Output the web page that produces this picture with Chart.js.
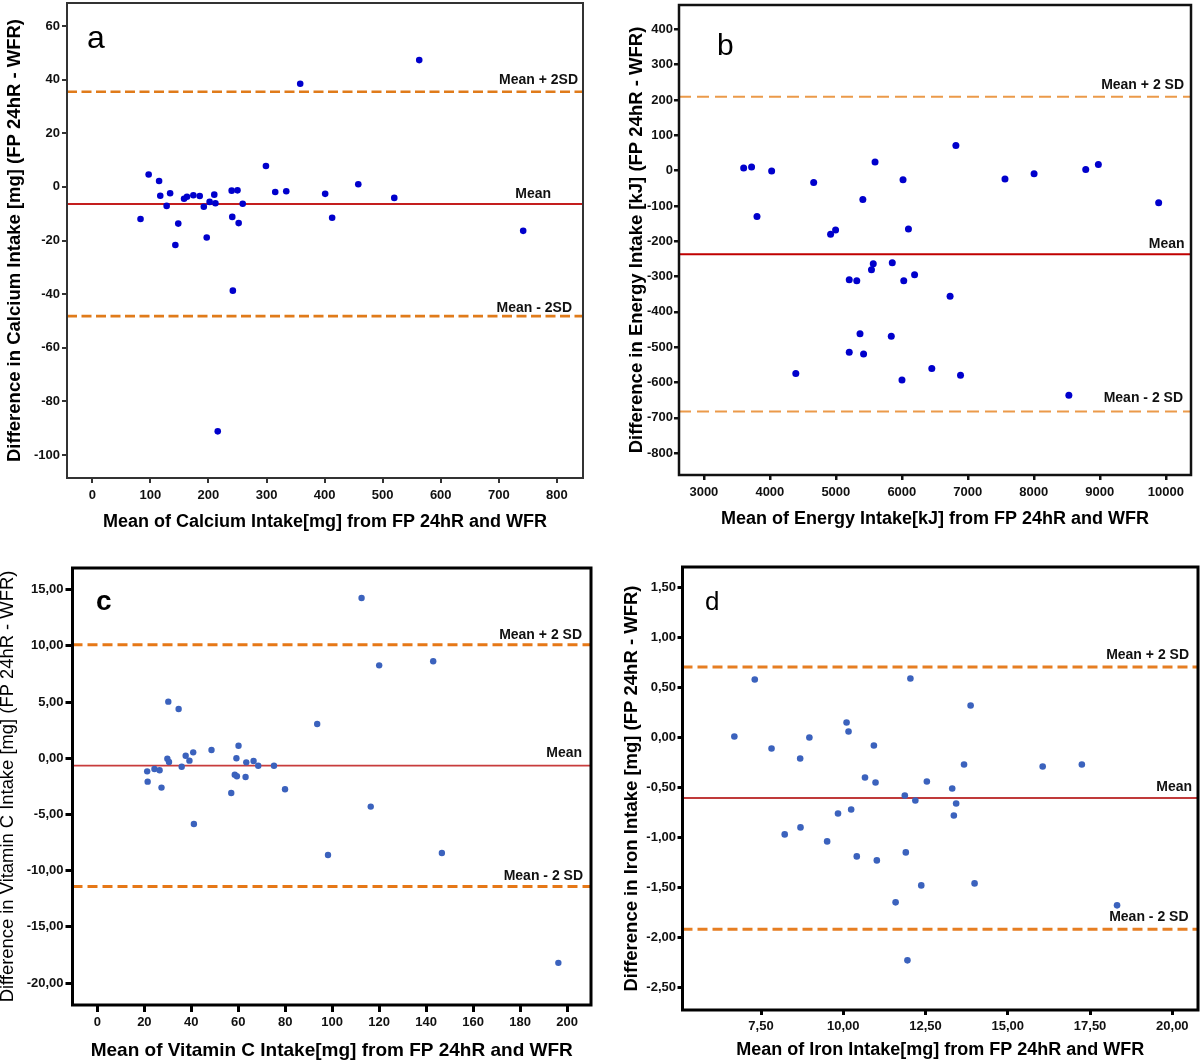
<!DOCTYPE html>
<html>
<head>
<meta charset="utf-8">
<script src="https://cdn.jsdelivr.net/npm/chart.js@4.4.1/dist/chart.umd.min.js"></script>
<style>
html, body { margin: 0; padding: 0; background: #fff; }
body { width: 1200px; height: 1062px; position: relative; overflow: hidden; }
canvas { position: absolute; }
</style>
</head>
<body>
<canvas id="panelA" width="600" height="545" style="left:0;top:0;width:600px;height:545px"></canvas>
<canvas id="panelB" width="600" height="545" style="left:600px;top:0;width:600px;height:545px"></canvas>
<canvas id="panelC" width="600" height="517" style="left:0;top:545px;width:600px;height:517px"></canvas>
<canvas id="panelD" width="600" height="517" style="left:600px;top:545px;width:600px;height:517px"></canvas>
<script>
// a - calcio
const calciumMeans = [563, 358, 97, 115, 299, 117, 134, 128, 158, 163, 174, 185, 192, 202, 210, 212, 240, 250, 259, 315, 334, 401, 458, 520, 83, 148, 241, 252, 413, 742, 197, 143, 242, 216];
const calciumDiffs = [47.3, 38.5, 4.6, 2.2, 7.8, -3.3, -2.4, -7.1, -4.4, -3.7, -3.1, -3.4, -7.4, -5.6, -2.9, -6.1, -1.4, -1.3, -6.3, -1.9, -1.6, -2.6, 1.0, -4.1, -12.0, -13.7, -11.2, -13.5, -11.5, -16.4, -18.9, -21.7, -38.7, -91.2];
const calciumLimits = [35.5, -6.4, -48.2]; // media + 2SD, media, media - 2SD
const calciumXTicks = [0, 100, 200, 300, 400, 500, 600, 700, 800];
const calciumYTicks = [-100, -80, -60, -40, -20, 0, 20, 40, 60];

// b - energia
const energyMeans = [3603, 3723, 4027, 3805, 4664, 4920, 4996, 5409, 5594, 6018, 6100, 6819, 7563, 8004, 8787, 8978, 9892, 5567, 5855, 5540, 5203, 5317, 6029, 6193, 6731, 5366, 5840, 5203, 5420, 4393, 6454, 6889, 6002, 8531];
const energyDiffs = [7, 10, -1, -130, -34, -180, -168, -82, 24, -26, -165, 71, -24, -9, 3, 17, -91, -264, -261, -281, -309, -312, -312, -295, -356, -462, -469, -514, -519, -574, -560, -579, -593, -636];
const energyLimits = [209, -237, -682];
const energyXTicks = [3000, 4000, 5000, 6000, 7000, 8000, 9000, 10000];
const energyYTicks = [-800, -700, -600, -500, -400, -300, -200, -100, 0, 100, 200, 300, 400];

// c - vitamina C
const vitaminMeans = [112.5, 120, 143, 30.2, 34.6, 93.6, 60.1, 48.6, 40.8, 37.6, 29.8, 30.5, 39.2, 35.9, 59.2, 63.4, 66.5, 68.5, 75.2, 21.2, 24.3, 26.5, 58.5, 59.4, 63.1, 21.4, 27.3, 79.9, 57, 116.4, 41.1, 98.2, 146.7, 196.3];
const vitaminDiffs = [14.26, 8.27, 8.63, 5.04, 4.39, 3.05, 1.12, 0.74, 0.53, 0.23, -0.04, -0.33, -0.21, -0.75, 0, -0.36, -0.24, -0.66, -0.66, -1.16, -0.95, -1.07, -1.46, -1.6, -1.66, -2.08, -2.61, -2.76, -3.09, -4.3, -5.85, -8.6, -8.43, -18.2];
const vitaminLimits = [10.1, -0.65, -11.4];
const vitaminXTicks = [0, 20, 40, 60, 80, 100, 120, 140, 160, 180, 200];
const vitaminYTicks = [-20, -15, -10, -5, 0, 5, 10, 15];

// d - hierro
const ironMeans = [6.69, 7.31, 7.82, 8.69, 8.97, 10.1, 10.16, 10.93, 10.66, 10.98, 12.04, 13.87, 13.67, 12.54, 13.31, 11.87, 12.19, 13.43, 16.06, 17.25, 9.84, 10.24, 13.36, 8.22, 8.70, 9.51, 10.41, 11.02, 11.9, 12.37, 13.99, 11.59, 18.32, 11.95];
const ironDiffs = [0.01, 0.58, -0.11, -0.21, 0.0, 0.15, 0.06, -0.08, -0.40, -0.45, 0.59, 0.32, -0.27, -0.44, -0.51, -0.58, -0.63, -0.66, -0.29, -0.27, -0.76, -0.72, -0.78, -0.97, -0.90, -1.04, -1.19, -1.23, -1.15, -1.48, -1.46, -1.65, -1.68, -2.23];
const ironLimits = [0.705, -0.605, -1.92];
const ironXTicks = [7.5, 10, 12.5, 15, 17.5, 20];
const ironYTicks = [-2.5, -2, -1.5, -1, -0.5, 0, 0.5, 1, 1.5];

const labelsNoSpace = ['Mean + 2SD', 'Mean', 'Mean - 2SD'];
const labelsSpace = ['Mean + 2 SD', 'Mean', 'Mean - 2 SD'];

Chart.defaults.font.family = "'Liberation Sans', Arial, sans-serif";
Chart.defaults.color = '#000';

const plain = v => String(v);
const comma = v => v.toFixed(2).replace('.', ',');

// marco, etiquetas de las lineas y letra del panel
function refPlugin(p) {
  return {
    id: 'ref' + p.letter,
    afterDatasetsDraw(chart) {
      const ctx = chart.ctx, ca = chart.chartArea, y = chart.scales.y;
      ctx.save();
      ctx.strokeStyle = p.frame;
      ctx.lineWidth = p.frameWidth;
      ctx.strokeRect(ca.left, ca.top, ca.right - ca.left, ca.bottom - ca.top);
      ctx.fillStyle = '#111';
      ctx.font = "bold 14px 'Liberation Sans', Arial, sans-serif";
      ctx.textAlign = 'right';
      ctx.textBaseline = 'middle';
      p.texts.forEach((t, i) => {
        ctx.fillText(t, ca.right - p.inset[i], y.getPixelForValue(p.limits[i]) - p.lift[i]);
      });
      ctx.fillStyle = '#000';
      ctx.textAlign = 'left';
      ctx.textBaseline = 'alphabetic';
      ctx.font = p.letterFont;
      ctx.fillText(p.letter, ca.left + p.letterPos[0], ca.top + p.letterPos[1]);
      ctx.restore();
    }
  };
}

function panel(id, p) {
  const points = p.xs.map((x, i) => ({ x: x, y: p.ys[i] }));
  const level = v => [{ x: p.xRange[0], y: v }, { x: p.xRange[1], y: v }];
  const tickGrid = { display: true, drawOnChartArea: false, drawTicks: true, tickLength: p.tick, color: p.frame, lineWidth: p.frameWidth };
  return new Chart(document.getElementById(id), {
    type: 'scatter',
    data: {
      datasets: [
        { data: points, backgroundColor: p.dot, borderWidth: 0, pointRadius: p.r, pointHoverRadius: p.r },
        { data: level(p.limits[0]), showLine: true, borderColor: p.sdColor, borderWidth: p.sdWidth, borderDash: p.dash, pointRadius: 0 },
        { data: level(p.limits[1]), showLine: true, borderColor: p.meanColor, borderWidth: p.meanWidth, pointRadius: 0 },
        { data: level(p.limits[2]), showLine: true, borderColor: p.sdColor, borderWidth: p.sdWidth, borderDash: p.dash, pointRadius: 0 }
      ]
    },
    options: {
      responsive: false,
      animation: false,
      events: [],
      layout: { autoPadding: false, padding: { left: 0, top: p.top, right: p.right, bottom: 0 } },
      plugins: { legend: { display: false }, tooltip: { enabled: false } },
      scales: {
        x: {
          type: 'linear', min: p.xRange[0], max: p.xRange[1],
          afterBuildTicks: s => { s.ticks = p.xTicks.map(v => ({ value: v })); },
          afterFit: s => { s.height = p.xHeight; s.paddingLeft = 0; s.paddingRight = 0; },
          grid: tickGrid,
          border: { display: false },
          ticks: { font: { size: 13, weight: 'bold' }, color: '#111', padding: p.xPad, maxRotation: 0, autoSkip: false, callback: p.xFmt },
          title: { display: true, text: p.xTitle, color: '#000', font: { size: p.xTitleSize, weight: 'bold', lineHeight: 1 }, padding: { top: 0, bottom: p.xTitlePad } }
        },
        y: {
          type: 'linear', min: p.yRange[0], max: p.yRange[1],
          afterBuildTicks: s => { s.ticks = p.yTicks.map(v => ({ value: v })); },
          afterFit: s => { s.width = p.yWidth; s.paddingTop = 0; s.paddingBottom = 0; },
          grid: tickGrid,
          border: { display: false },
          ticks: { font: { size: 13, weight: 'bold' }, color: '#111', padding: p.yPad, autoSkip: false, callback: p.yFmt },
          title: { display: true, text: p.yTitle, color: '#000', font: { size: p.yTitleSize, weight: p.yTitleWeight, lineHeight: 1 }, padding: { top: p.yTitlePad, bottom: 0 } }
        }
      }
    },
    plugins: [refPlugin(p)]
  });
}

panel('panelA', {
  xs: calciumMeans, ys: calciumDiffs, limits: calciumLimits, xTicks: calciumXTicks, yTicks: calciumYTicks,
  xRange: [-43.6, 845], yRange: [-108.6, 68.6], top: 3, right: 17, yWidth: 67, xHeight: 67,
  tick: 5, xPad: 5, yPad: 2, xFmt: plain, yFmt: plain,
  xTitle: 'Mean of Calcium Intake[mg] from FP 24hR and WFR', xTitleSize: 18, xTitlePad: 14.3,
  yTitle: 'Difference in Calcium Intake [mg] (FP 24hR - WFR)', yTitleSize: 18.5, yTitleWeight: 'bold', yTitlePad: 5.7,
  dot: '#0000cc', r: 3.3, meanColor: '#c41e1e', meanWidth: 2, sdColor: '#e07b1a', sdWidth: 2.6, dash: [10, 4.5],
  frame: '#333', frameWidth: 2,
  texts: labelsNoSpace, inset: [5, 32, 11], lift: [11.7, 10, 7.7],
  letter: 'a', letterFont: "32px 'Liberation Sans', Arial, sans-serif", letterPos: [20, 45]
});

panel('panelB', {
  xs: energyMeans, ys: energyDiffs, limits: energyLimits, xTicks: energyXTicks, yTicks: energyYTicks,
  xRange: [2623, 10382], yRange: [-861.6, 468.7], top: 5, right: 9, yWidth: 79, xHeight: 70,
  tick: 5, xPad: 4.5, yPad: 1, xFmt: plain, yFmt: plain,
  xTitle: 'Mean of Energy Intake[kJ] from FP 24hR and WFR', xTitleSize: 18, xTitlePad: 16.7,
  yTitle: 'Difference in Energy Intake [kJ] (FP 24hR - WFR)', yTitleSize: 18.5, yTitleWeight: 'bold', yTitlePad: 27.4,
  dot: '#0000cc', r: 3.5, meanColor: '#c00000', meanWidth: 2, sdColor: '#eb9a4a', sdWidth: 2, dash: [12, 6],
  frame: '#111', frameWidth: 2.5,
  texts: labelsSpace, inset: [7, 6.5, 8], lift: [11.7, 10.3, 13.4],
  letter: 'b', letterFont: "30px 'Liberation Sans', Arial, sans-serif", letterPos: [38, 50]
});

panel('panelC', {
  xs: vitaminMeans, ys: vitaminDiffs, limits: vitaminLimits, xTicks: vitaminXTicks, yTicks: vitaminYTicks,
  xRange: [-10.6, 210.2], yRange: [-21.95, 16.93], top: 23, right: 9, yWidth: 72.5, xHeight: 57,
  tick: 7, xPad: 3, yPad: 2, xFmt: plain, yFmt: comma,
  xTitle: 'Mean of Vitamin C Intake[mg] from FP 24hR and WFR', xTitleSize: 19, xTitlePad: 1.8,
  yTitle: 'Difference in Vitamin C Intake [mg] (FP 24hR - WFR)', yTitleSize: 18.4, yTitleWeight: 'normal', yTitlePad: -1.7,
  dot: '#3b62bd', r: 3.2, meanColor: '#c83c3c', meanWidth: 1.6, sdColor: '#e67817', sdWidth: 3, dash: [10, 5],
  frame: '#000', frameWidth: 3,
  texts: labelsSpace, inset: [9, 9, 8], lift: [10, 12, 10],
  letter: 'c', letterFont: "bold 28px 'Liberation Sans', Arial, sans-serif", letterPos: [23.5, 42]
});

panel('panelD', {
  xs: ironMeans, ys: ironDiffs, limits: ironLimits, xTicks: ironXTicks, yTicks: ironYTicks,
  xRange: [5.114, 20.78], yRange: [-2.727, 1.706], top: 22, right: 2, yWidth: 82.5, xHeight: 52,
  tick: 5, xPad: 3.2, yPad: 1.5, xFmt: comma, yFmt: comma,
  xTitle: 'Mean of Iron Intake[mg] from FP 24hR and WFR', xTitleSize: 18, xTitlePad: 3,
  yTitle: 'Difference in Iron Intake [mg] (FP 24hR - WFR)', yTitleSize: 18.5, yTitleWeight: 'bold', yTitlePad: 22.4,
  dot: '#3b62bd', r: 3.3, meanColor: '#c03a3a', meanWidth: 2, sdColor: '#e67e22', sdWidth: 3, dash: [10, 5],
  frame: '#000', frameWidth: 3,
  texts: labelsSpace, inset: [9, 6, 9.5], lift: [11.7, 10.4, 12],
  letter: 'd', letterFont: "26px 'Liberation Sans', Arial, sans-serif", letterPos: [22.5, 43]
});
</script>
</body>
</html>
